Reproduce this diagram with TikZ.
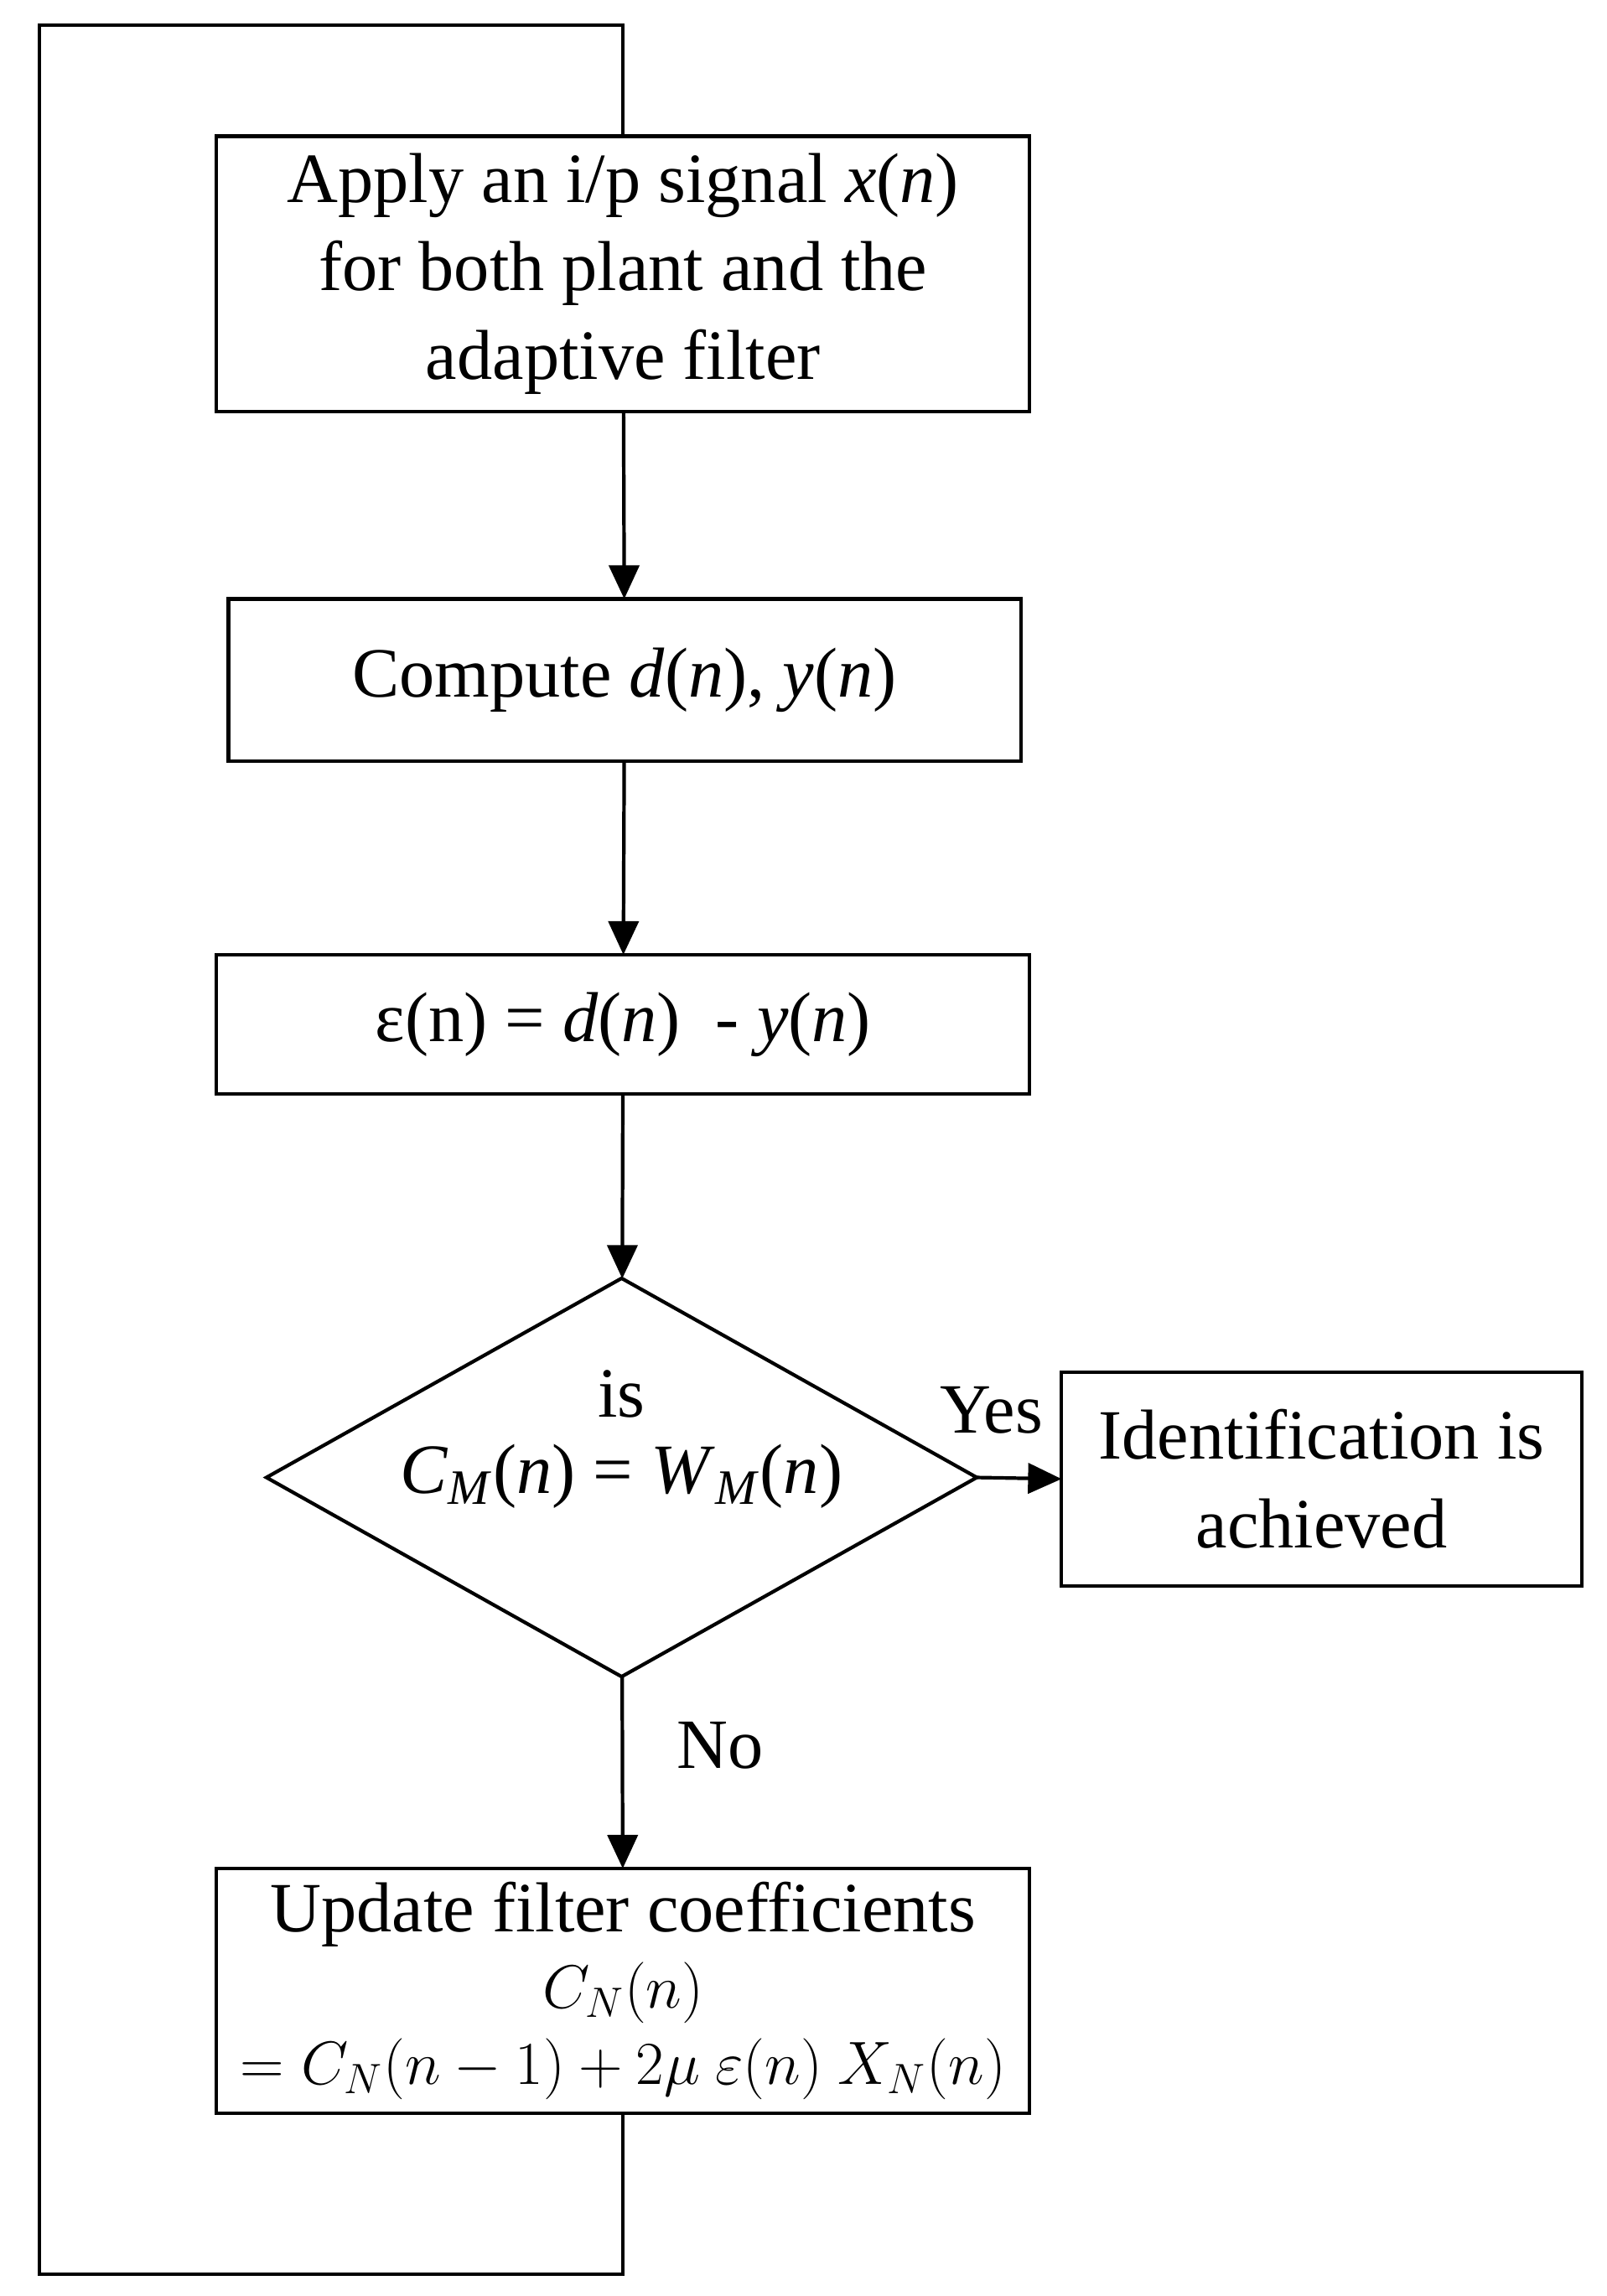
\documentclass[tikz,border=0pt]{standalone}
\usepackage{fontspec}
\setmainfont{Liberation Serif}
\usetikzlibrary{arrows.meta,shapes.geometric}

\begin{document}
\begin{tikzpicture}[
			x=0.017475cm, y=-0.017475cm,
			line width=1.2pt,
			font=\fontsize{24}{30}\selectfont,
			StepBox/.style={draw, rectangle, align=center, inner sep=0pt,
				minimum width=9.70cm, outer sep=0pt},
			TestBox/.style={draw, diamond, inner sep=0pt, shape aspect=1.783,
				minimum width=8.475cm, minimum height=4.753cm, outer sep=0pt},
			MyArrow/.style={-{Triangle[length=0.40cm, width=0.36cm]}},
			]
			\useasboundingbox (0,0) rectangle (1097,1568);
			\node [StepBox, minimum height=3.285cm] (apply) at (425.5,187)
				{Apply an i/p signal \textit{x}(\textit{n})\\for both plant and the\\adaptive filter};
			\node [StepBox, minimum width=9.454cm, minimum height=1.940cm] (compute) at (426.5,464.5)
				{Compute \textit{d}(\textit{n}), \textit{y}(\textit{n})};
			\node [StepBox, minimum height=1.660cm] (error) at (425.5,699.5)
				{ε(n) = \textit{d}(\textit{n})~ - \textit{y}(\textit{n})};
			\node [TestBox] (test) at (424.5,1009) {};
			\node [align=center, font=\fontsize{24}{26}\selectfont] (testtext) at (424.5,983)
				{is\\\textit{C}\textsubscript{\textit{M}}(\textit{n}) = \textit{W}\textsubscript{\textit{M}}(\textit{n})};
			\node [StepBox, minimum width=6.204cm, minimum height=2.551cm] (done) at (902.5,1010)
				{Identification is\\achieved};
			\node [StepBox, minimum height=2.918cm, font=\fontsize{21}{26}\selectfont] (update) at (425.5,1359.5)
				{\fontsize{24}{26}\selectfont Update filter coefficients\\$C_N(n)$\\$= C_N(n-1) + 2\mu\ \varepsilon(n)\ X_N(n)$};
			\node (yes) at (677,963) {Yes};
			\node (no) at (492,1192) {No};
			\coordinate (loopbot) at (27,1553);
			\coordinate (looptop) at (27,17);
			\begin{scope}[MyArrow]
				\draw (apply) -- (compute);
				\draw (compute) -- (error);
				\draw (error) -- (test);
				\draw (test) -- (update);
				\draw (test.east) -- (done.west);
			\end{scope}
			\draw (update.south) -- (update.south |- loopbot) -- (loopbot)
				-- (looptop) -- (apply.north |- looptop) -- (apply.north);
		\end{tikzpicture}
\end{document}
